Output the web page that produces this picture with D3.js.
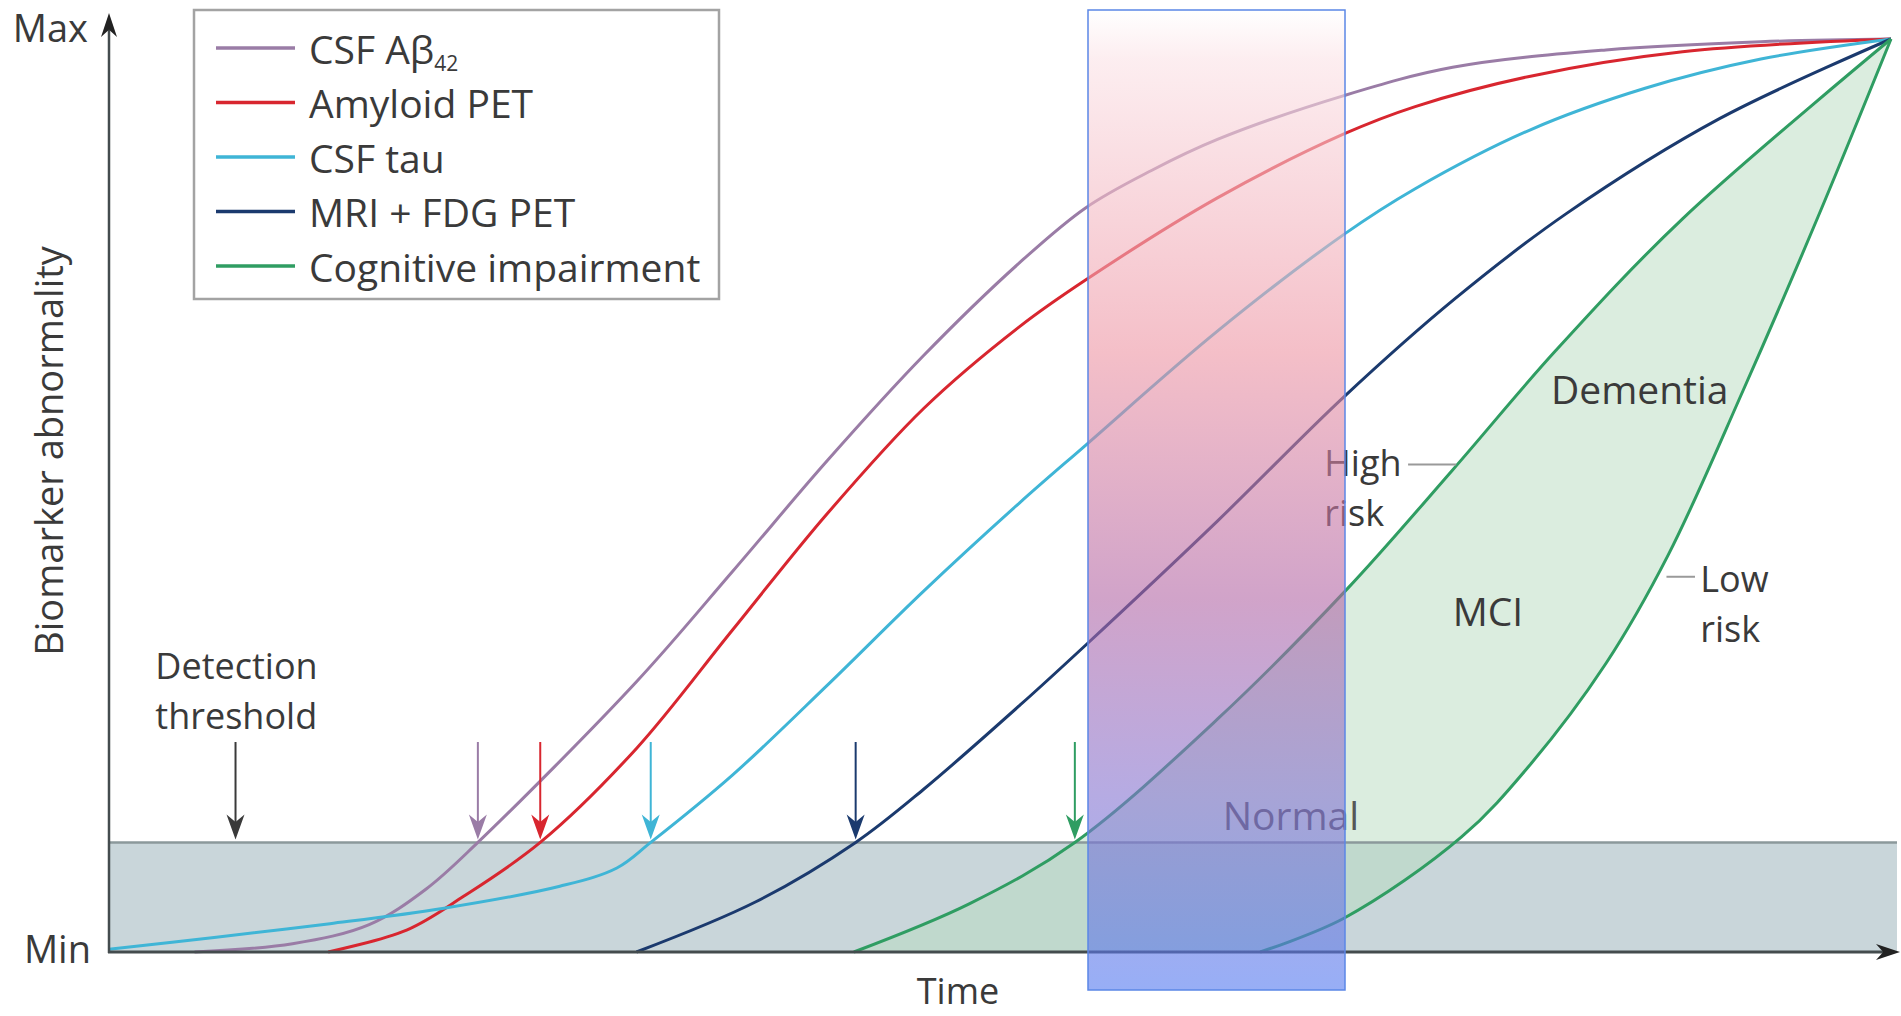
<!DOCTYPE html>
<html>
<head>
<meta charset="utf-8">
<script src="https://cdn.jsdelivr.net/npm/d3@7"></script>
<style>
  body { margin: 0; background: #fff; }
  svg { display: block; }
  text { font-family: "Open Sans", sans-serif; fill: #3a3a3a; }
</style>
</head>
<body>
<svg width="1901" height="1016"></svg>
<script>
// Biomarker curves, [time, abnormality] (0..100 on both axes)
const csfAbeta = [[4.8,0],[10.3,0.9],[14.6,3.0],[17.8,6.9],[20.7,12],[29.6,29.6],[35,41.7],[40.3,53.8],[45.7,65.3],[51.1,75.5],[54.8,81.5],[58.5,85.6],[62.2,89.0],[69.3,93.8],[75.4,96.9],[84,98.8],[92.7,99.7],[100,100]];
const amyloidPet = [[12.3,0],[16.7,2.4],[19.9,6.1],[24.2,12],[29.6,22.3],[35,35.3],[40.3,48.0],[45.7,59.5],[51.1,68.5],[54.8,73.6],[62.2,82.6],[69.3,89.6],[73.3,92.6],[79.7,95.9],[88.3,98.6],[100,100]];
const csfTau = [[0,0.3],[5.9,1.6],[12.4,3.1],[18.8,4.8],[25.3,7.2],[28.5,9.2],[30.4,12],[35,19.4],[40.3,29.2],[45.7,39.5],[51.1,49.2],[54.8,55.5],[62.2,68.0],[69.3,78.6],[73.3,83.6],[79.7,90.0],[86.2,94.6],[92.7,97.8],[100,100]];
const mriFdg = [[29.6,0],[36.3,5.5],[41.9,12],[45.7,17.8],[51.1,27.0],[54.8,33.6],[62.2,47.2],[69.3,60.8],[75.5,71.5],[81.8,80.9],[90.4,91.3],[100,100]];
const cogHighRisk = [[41.8,0],[48.3,5.3],[54.2,12],[62.2,25.5],[69.5,39.8],[75.4,52.8],[81.2,65.9],[88.3,80.3],[100,100]];
const cogLowRisk = [[64.6,0],[69.3,3.7],[75.9,12.6],[79.7,20.4],[84,31.6],[87.5,43.5],[91.7,61.5],[95.9,80.5],[100,100]];

const legendNames = ["CSF Aβ", "Amyloid PET", "CSF tau", "MRI + FDG PET", "Cognitive impairment"];
const threshold = 12;
const detectionArrowAt = 7.1;
const markerArrowsAt = [20.7, 24.2, 30.4, 41.9, 54.2];

const colors = ["#9a7ca6", "#d8262f", "#3fb5d6", "#1b3a6e", "#2f9d62"];

const svg = d3.select("svg");

const x = d3.scaleLinear().domain([0, 100]).range([109, 1891]);
const y = d3.scaleLinear().domain([0, 100]).range([952, 39]);

const line = d3.line()
    .x(d => x(d[0]))
    .y(d => y(d[1]))
    .curve(d3.curveCatmullRom.alpha(0.5));

// threshold band
svg.append("rect")
    .attr("x", x(0))
    .attr("y", y(threshold))
    .attr("width", 1897 - x(0))
    .attr("height", y(0) - y(threshold))
    .attr("fill", "#c9d6da");

// MCI region between the two cognitive curves
svg.append("path")
    .attr("d", line(cogHighRisk) + line(cogLowRisk.slice().reverse()).replace(/^M/, "L") + "Z")
    .attr("fill", "#b8dbc0")
    .attr("fill-opacity", 0.5);

svg.append("line")
    .attr("x1", x(0)).attr("x2", 1897)
    .attr("y1", y(threshold)).attr("y2", y(threshold))
    .attr("stroke", "#8b999b")
    .attr("stroke-width", 2.5);

// curves
const curves = [csfAbeta, amyloidPet, csfTau, mriFdg, cogHighRisk, cogLowRisk];
const curveColors = [colors[0], colors[1], colors[2], colors[3], colors[4], colors[4]];
svg.selectAll(".curve")
    .data(curves)
    .join("path")
    .attr("class", "curve")
    .attr("d", line)
    .attr("fill", "none")
    .attr("stroke", (d, i) => curveColors[i])
    .attr("stroke-width", 3);

// arrow heads
function arrowHead(g, tx, ty, dir, color, w, h) {
    let pts;
    if (dir === "down") pts = [[0,0],[-w,-h],[0,-h*0.7],[w,-h]];
    if (dir === "up") pts = [[0,0],[-w,h],[0,h*0.7],[w,h]];
    if (dir === "right") pts = [[0,0],[-h,-w],[-h*0.7,0],[-h,w]];
    g.append("path")
        .attr("d", "M" + pts.map(p => [tx + p[0], ty + p[1]].join(",")).join("L") + "Z")
        .attr("fill", color);
}

// vertical arrows pointing at the threshold
const arrowTop = 23;
const arrows = [detectionArrowAt].concat(markerArrowsAt);
const arrowColors = ["#3a3a3a"].concat(colors);
arrows.forEach((a, i) => {
    svg.append("line")
        .attr("x1", x(a)).attr("x2", x(a))
        .attr("y1", y(arrowTop)).attr("y2", y(threshold) - 12)
        .attr("stroke", arrowColors[i])
        .attr("stroke-width", 2);
    arrowHead(svg, x(a), y(threshold) - 3, "down", arrowColors[i], 9, 25);
});

// axes
svg.append("line")
    .attr("x1", x(0)).attr("x2", x(0))
    .attr("y1", y(0) + 1).attr("y2", 30)
    .attr("stroke", "#444c4e").attr("stroke-width", 2.5);
arrowHead(svg, x(0), 13, "up", "#222", 8, 24);
svg.append("line")
    .attr("x1", x(0) - 1).attr("x2", 1885)
    .attr("y1", y(0)).attr("y2", y(0))
    .attr("stroke", "#444c4e").attr("stroke-width", 3);
arrowHead(svg, 1900, y(0), "right", "#222", 8, 24);

// axis texts
svg.append("text").text("Max")
    .attr("x", 88).attr("y", 27)
    .attr("text-anchor", "end").attr("dominant-baseline", "central")
    .style("font-size", "38px");
svg.append("text").text("Min")
    .attr("x", 91).attr("y", 948)
    .attr("text-anchor", "end").attr("dominant-baseline", "central")
    .style("font-size", "38px");
svg.append("text").text("Time")
    .attr("x", 958).attr("y", 1004)
    .style("font-size", "36px")
    .attr("text-anchor", "middle");
svg.append("text").text("Biomarker abnormality")
    .attr("transform", "translate(48,451) rotate(-90)")
    .attr("text-anchor", "middle").attr("dominant-baseline", "central")
    .style("font-size", "38px");

// annotations (multi-line labels as one text with tspans)
function label(lines, tx, ty, anchor, color) {
    const two = lines.length > 1;
    const t = svg.append("text")
        .attr("x", x(tx)).attr("y", y(ty) - (two ? 2 : 0))
        .attr("text-anchor", anchor || "start")
        .attr("dominant-baseline", "central")
        .style("font-size", two ? "36px" : "39px")
        .style("fill", color || "#3a3a3a");
    lines.forEach((s, i) => {
        t.append("tspan").text(s)
            .attr("x", x(tx))
            .attr("dy", i === 0 ? 0 : 50);
    });
}
label(["Detection", "threshold"], 2.6, 31.2);
label(["Dementia"], 85.9, 61.8, "middle");
label(["High", "risk"], 68.2, 53.5);
label(["MCI"], 75.4, 37.5);
label(["Low", "risk"], 89.3, 40.7);
label(["Normal"], 62.5, 15.1, "start", "#575757");

svg.append("line")
    .attr("x1", x(72.9)).attr("x2", x(75.6))
    .attr("y1", y(53.4)).attr("y2", y(53.4))
    .attr("stroke", "#9a9a9a").attr("stroke-width", 2);
svg.append("line")
    .attr("x1", x(87.4)).attr("x2", x(89.0))
    .attr("y1", y(41.1)).attr("y2", y(41.1))
    .attr("stroke", "#9a9a9a").attr("stroke-width", 2);

// legend
const legend = svg.append("g");
legend.append("rect")
    .attr("x", 194).attr("y", 10)
    .attr("width", 525).attr("height", 289)
    .attr("fill", "#fff")
    .attr("stroke", "#a3a3a3").attr("stroke-width", 2.5);
legendNames.forEach((n, i) => {
    const ly = 48 + i * 54.5;
    legend.append("line")
        .attr("x1", 216).attr("x2", 295)
        .attr("y1", ly).attr("y2", ly)
        .attr("stroke", colors[i]).attr("stroke-width", 3.5);
    const t = legend.append("text")
        .attr("x", 309).attr("y", ly)
        .attr("dominant-baseline", "central")
        .style("font-size", "39px")
        .text(n);
    if (i === 0) {
        t.append("tspan").text("42")
            .attr("dy", 15)
            .style("font-size", "21px");
    }
});

// highlight overlay
const defs = svg.append("defs");
const grad = defs.append("linearGradient")
    .attr("id", "overlayGrad")
    .attr("x1", 0).attr("y1", 0).attr("x2", 0).attr("y2", 1);
[[0, "#ffffff"], [0.05, "#fbe2e6"], [0.35, "#ed94a3"], [0.6, "#b266a5"], [0.8, "#8573d0"], [1, "#5278f0"]]
    .forEach(s => grad.append("stop").attr("offset", s[0]).attr("stop-color", s[1]));
svg.append("rect")
    .attr("x", 1088).attr("y", 10)
    .attr("width", 257).attr("height", 980)
    .attr("fill", "url(#overlayGrad)")
    .attr("fill-opacity", 0.6)
    .attr("stroke", "#5b87e6")
    .attr("stroke-width", 1.5);
</script>
</body>
</html>
